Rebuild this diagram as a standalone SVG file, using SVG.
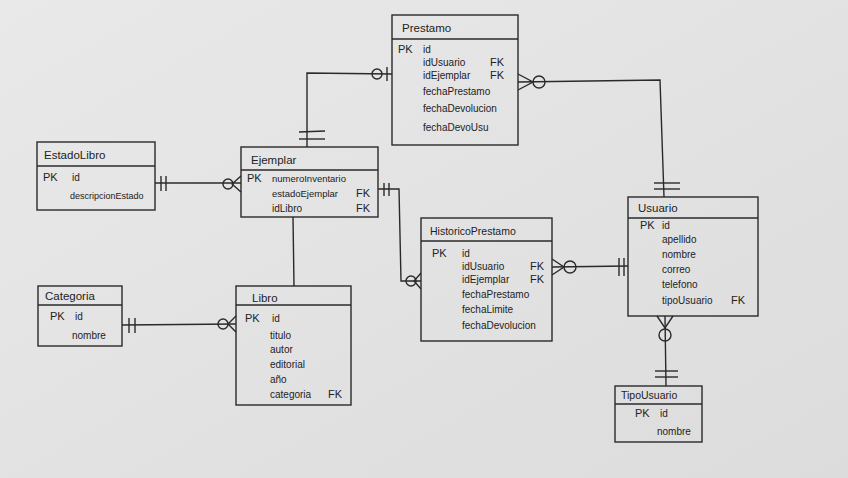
<svg xmlns="http://www.w3.org/2000/svg" width="848" height="478" viewBox="0 0 848 478">
<defs>
<linearGradient id="bg" x1="0" y1="0" x2="1" y2="1">
<stop offset="0" stop-color="#e9e9e9"/>
<stop offset="1" stop-color="#dcdcdc"/>
</linearGradient>
</defs>
<style>
.box{fill:none;stroke:#2a2a2a;stroke-width:1.4}
.ln{fill:none;stroke:#2a2a2a;stroke-width:1.4}
text{font-family:"Liberation Sans",Arial,sans-serif;fill:#222;font-size:10px}
.t{font-size:11.5px}
.k{font-size:11px}
</style>
<rect width="848" height="478" fill="url(#bg)"/>

<g id="connectors">
<!-- Prestamo - Ejemplar -->
<polyline class="ln" points="392,74 307,73 307,147"/>
<circle class="ln" cx="377" cy="74" r="5"/>
<line class="ln" x1="387" y1="67" x2="387" y2="81"/>
<line class="ln" x1="299" y1="132" x2="325" y2="131"/>
<line class="ln" x1="299" y1="139" x2="325" y2="139"/>
<!-- Prestamo - Usuario -->
<polyline class="ln" points="518,82 660,80 664,197"/>
<circle class="ln" cx="539" cy="82" r="6"/>
<polyline class="ln" points="518,74 533,82 518,90"/>
<line class="ln" x1="654" y1="183" x2="680" y2="183"/>
<line class="ln" x1="654" y1="189" x2="680" y2="189"/>
<!-- EstadoLibro - Ejemplar -->
<line class="ln" x1="155" y1="183" x2="241" y2="183"/>
<line class="ln" x1="161" y1="176" x2="161" y2="191"/>
<line class="ln" x1="166" y1="176" x2="166" y2="191"/>
<circle class="ln" cx="228" cy="184" r="5"/>
<polyline class="ln" points="241,176 232,184 241,192"/>
<!-- Ejemplar - Libro -->
<line class="ln" x1="293" y1="217" x2="294" y2="286"/>
<!-- Ejemplar - HistoricoPrestamo -->
<polyline class="ln" points="378,189 399,189 401,281 421,281"/>
<line class="ln" x1="384" y1="183" x2="384" y2="196"/>
<line class="ln" x1="389" y1="183" x2="389" y2="196"/>
<circle class="ln" cx="411" cy="281" r="5"/>
<polyline class="ln" points="421,273 414,281 421,289"/>
<!-- HistoricoPrestamo - Usuario -->
<line class="ln" x1="552" y1="267" x2="628" y2="266"/>
<polyline class="ln" points="552,259 564,267 552,275"/>
<circle class="ln" cx="570" cy="267" r="6"/>
<line class="ln" x1="619" y1="258" x2="619" y2="276"/>
<line class="ln" x1="624" y1="258" x2="624" y2="276"/>
<!-- Categoria - Libro -->
<line class="ln" x1="122" y1="325" x2="236" y2="324"/>
<line class="ln" x1="129" y1="318" x2="129" y2="333"/>
<line class="ln" x1="135" y1="318" x2="135" y2="333"/>
<circle class="ln" cx="223" cy="324" r="5"/>
<polyline class="ln" points="236,316 228,324 236,332"/>
<!-- Usuario - TipoUsuario -->
<line class="ln" x1="665" y1="316" x2="666" y2="386"/>
<polyline class="ln" points="657,316 665,328 673,316"/>
<circle class="ln" cx="665" cy="335" r="6"/>
<line class="ln" x1="655" y1="371" x2="678" y2="371"/>
<line class="ln" x1="655" y1="377" x2="678" y2="377"/>
</g>

<g id="Prestamo">
<rect class="box" x="392" y="15" width="126" height="130"/>
<line class="ln" x1="392" y1="39" x2="518" y2="39"/>
<text class="t" x="402" y="32">Prestamo</text>
<text class="k" x="398" y="53">PK</text>
<text x="423" y="53">id</text>
<text x="423" y="66">idUsuario</text><text class="k" x="490" y="66">FK</text>
<text x="423" y="79">idEjemplar</text><text class="k" x="490" y="79">FK</text>
<text x="423" y="95">fechaPrestamo</text>
<text x="423" y="112">fechaDevolucion</text>
<text x="423" y="131">fechaDevoUsu</text>
</g>

<g id="EstadoLibro">
<rect class="box" x="37" y="142" width="118" height="68"/>
<line class="ln" x1="37" y1="166" x2="155" y2="166"/>
<text class="t" x="44" y="159">EstadoLibro</text>
<text class="k" x="43" y="181">PK</text>
<text x="72" y="181">id</text>
<text x="70" y="199" style="font-size:9px">descripcionEstado</text>
</g>

<g id="Ejemplar">
<rect class="box" x="241" y="147" width="137" height="70"/>
<line class="ln" x1="241" y1="170" x2="378" y2="170"/>
<text class="t" x="251" y="164">Ejemplar</text>
<text class="k" x="247" y="182">PK</text>
<text x="272" y="182" style="font-size:9.5px">numeroInventario</text>
<text x="272" y="197" style="font-size:9.5px">estadoEjemplar</text><text class="k" x="356" y="197">FK</text>
<text x="272" y="212">idLibro</text><text class="k" x="356" y="212">FK</text>
</g>

<g id="HistoricoPrestamo">
<rect class="box" x="421" y="218" width="131" height="123"/>
<line class="ln" x1="421" y1="241" x2="552" y2="241"/>
<text class="t" x="430" y="235" style="font-size:10.5px">HistoricoPrestamo</text>
<text class="k" x="432" y="257">PK</text>
<text x="462" y="257">id</text>
<text x="462" y="270">idUsuario</text><text class="k" x="530" y="270">FK</text>
<text x="462" y="283">idEjemplar</text><text class="k" x="530" y="283">FK</text>
<text x="462" y="298">fechaPrestamo</text>
<text x="462" y="313">fechaLimite</text>
<text x="462" y="329">fechaDevolucion</text>
</g>

<g id="Usuario">
<rect class="box" x="628" y="197" width="130" height="119"/>
<line class="ln" x1="628" y1="218" x2="758" y2="218"/>
<text class="t" x="638" y="212">Usuario</text>
<text class="k" x="640" y="229">PK</text>
<text x="662" y="229">id</text>
<text x="662" y="243">apellido</text>
<text x="662" y="258">nombre</text>
<text x="662" y="273">correo</text>
<text x="662" y="288">telefono</text>
<text x="662" y="304">tipoUsuario</text><text class="k" x="731" y="304">FK</text>
</g>

<g id="Categoria">
<rect class="box" x="38" y="286" width="84" height="60"/>
<line class="ln" x1="38" y1="305" x2="122" y2="305"/>
<text class="t" x="45" y="300">Categoria</text>
<text class="k" x="50" y="320">PK</text>
<text x="75" y="320">id</text>
<text x="72" y="339">nombre</text>
</g>

<g id="Libro">
<rect class="box" x="236" y="286" width="115" height="119"/>
<line class="ln" x1="236" y1="305" x2="351" y2="305"/>
<text class="t" x="252" y="302">Libro</text>
<text class="k" x="245" y="322">PK</text>
<text x="272" y="322">id</text>
<text x="270" y="339">titulo</text>
<text x="270" y="353">autor</text>
<text x="270" y="368">editorial</text>
<text x="270" y="383">año</text>
<text x="270" y="398">categoria</text><text class="k" x="328" y="398">FK</text>
</g>

<g id="TipoUsuario">
<rect class="box" x="615" y="386" width="87" height="56"/>
<line class="ln" x1="615" y1="404" x2="702" y2="404"/>
<text class="t" x="621" y="399" style="font-size:10.5px">TipoUsuario</text>
<text class="k" x="635" y="417">PK</text>
<text x="660" y="417">id</text>
<text x="657" y="435">nombre</text>
</g>
</svg>
